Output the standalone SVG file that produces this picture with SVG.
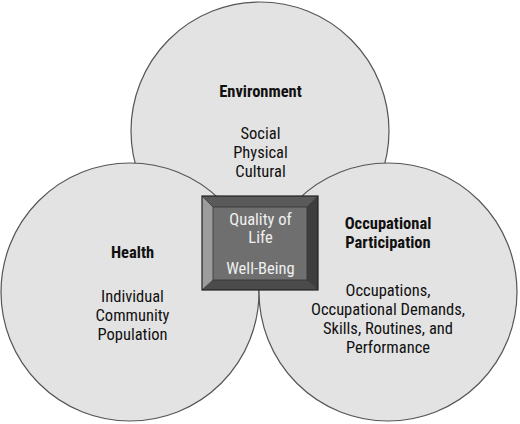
<svg xmlns="http://www.w3.org/2000/svg" width="520" height="424" viewBox="0 0 520 424">
<style>
.circle{fill:#e3e3e3;stroke:#555;stroke-width:1.2}
text{font-family:"Liberation Sans Narrow","Roboto Condensed","DejaVu Sans Condensed","Liberation Sans",sans-serif;font-size:16.5px;text-anchor:middle;fill:#111}
.b{font-weight:bold}
.w{fill:#f0f0f0}
</style>
<rect width="520" height="424" fill="#ffffff"/>
<g id="environment">
<circle class="circle" cx="260" cy="131" r="129"/>
<text class="b" x="260.5" y="97">Environment</text>
<text x="260.5" y="139">Social</text>
<text x="260.5" y="158">Physical</text>
<text x="260.5" y="177">Cultural</text>
</g>
<g id="health">
<circle class="circle" cx="130" cy="292" r="129"/>
<text class="b" x="132.5" y="258">Health</text>
<text x="132.5" y="302">Individual</text>
<text x="132.5" y="321">Community</text>
<text x="132.5" y="340">Population</text>
</g>
<g id="occupational-participation">
<circle class="circle" cx="388" cy="292" r="129"/>
<text class="b" x="388" y="229">Occupational</text>
<text class="b" x="388" y="248">Participation</text>
<text x="388" y="296">Occupations,</text>
<text x="388" y="315">Occupational Demands,</text>
<text x="388" y="334">Skills, Routines, and</text>
<text x="388" y="353">Performance</text>
</g>
<g id="connectors"></g>
<g id="quality-of-life">
<polygon points="202,196 318,196 307,207 213,207" fill="#5a5a5a"/>
<polygon points="202,196 213,207 213,280 202,290" fill="#9c9c9c"/>
<polygon points="318,196 318,290 307,280 307,207" fill="#3e3e3e"/>
<polygon points="202,290 318,290 307,280 213,280" fill="#4b4b4b"/>
<rect x="213" y="207" width="94" height="73" fill="#6f6f6f" stroke="#333" stroke-width="0.8"/>
<g stroke="#333" stroke-width="0.8"><line x1="202" y1="196" x2="213" y2="207"/><line x1="318" y1="196" x2="307" y2="207"/><line x1="202" y1="290" x2="213" y2="280"/><line x1="318" y1="290" x2="307" y2="280"/></g>
<rect x="202" y="196" width="116" height="94" fill="none" stroke="#222" stroke-width="1.2"/>
<text class="w" x="260.5" y="225">Quality of</text>
<text class="w" x="260.5" y="243">Life</text>
<text class="w" x="260.5" y="274">Well-Being</text>
</g>
</svg>
